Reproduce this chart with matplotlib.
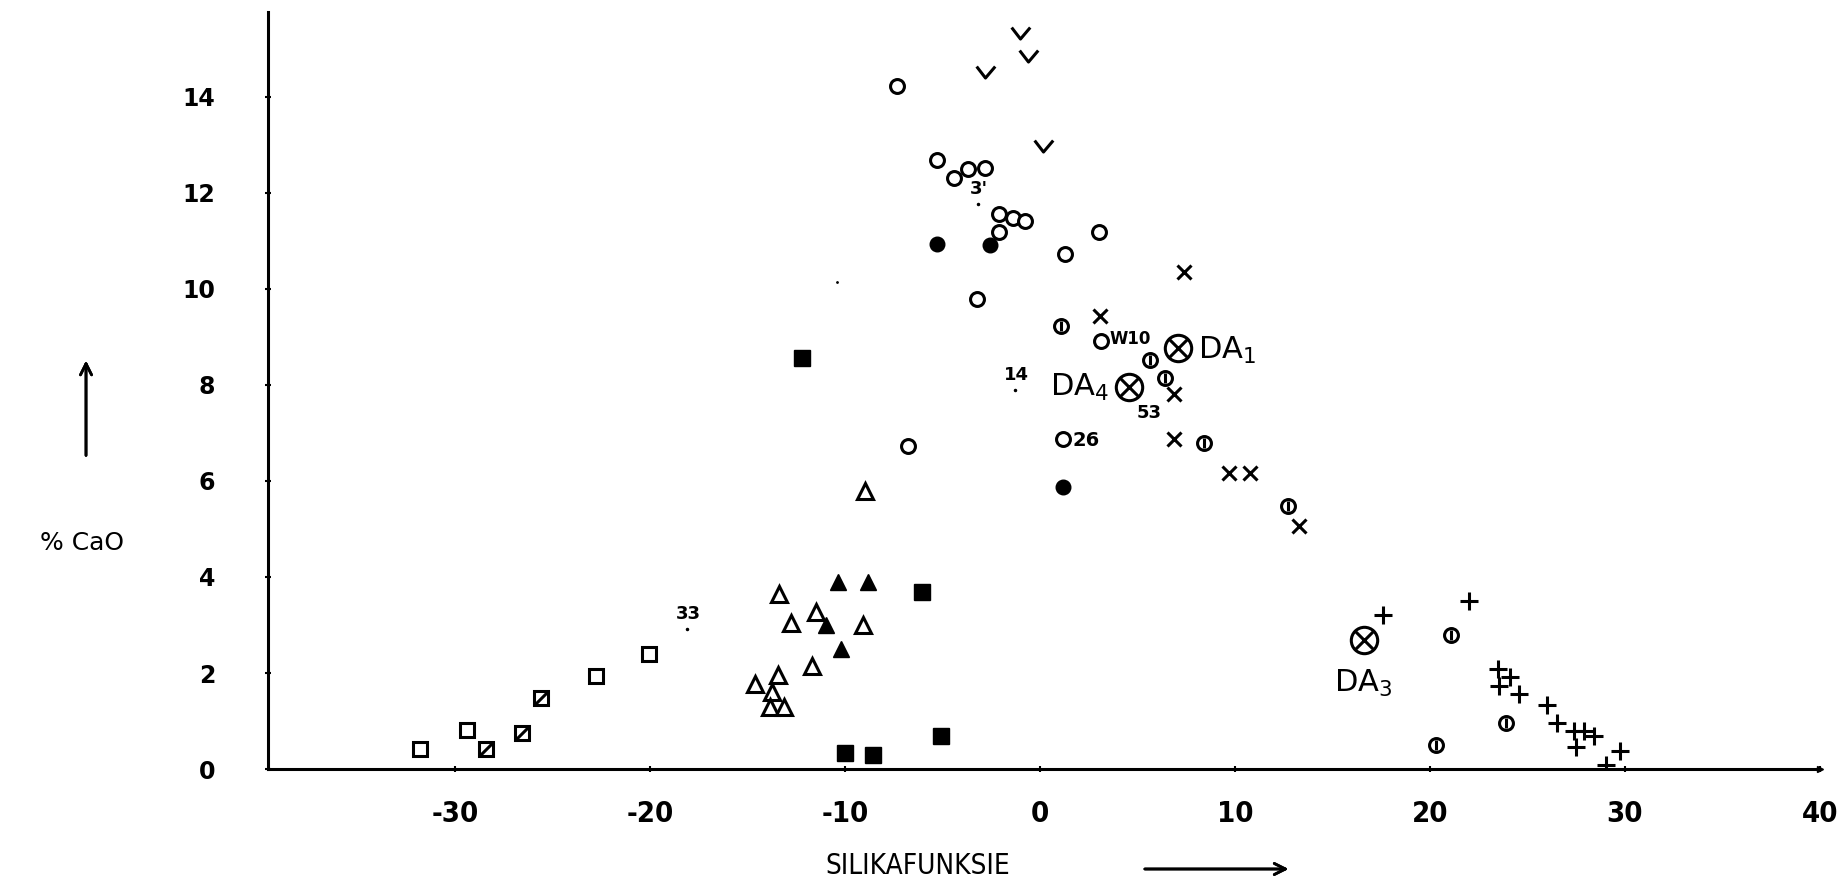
import matplotlib.pyplot as plt
import numpy as np
from matplotlib.path import Path

plt.rcParams['font.family'] = ['DejaVu Sans']
plt.rcParams['mathtext.default'] = 'regular'

# open circles
o_x = [-7.33, -5.31, -4.39, -3.69, -2.83, -2.11, -1.40, -0.75, -2.11, 3.01, 1.27, -3.25, -6.75, 1.18, 3.15]
o_y = [14.23, 12.69, 12.31, 12.50, 12.52, 11.57, 11.47, 11.41, 11.18, 11.19, 10.72, 9.80, 6.73, 6.88, 8.92]
# filled circles
dot_x = [-5.31, -2.58, 1.16]
dot_y = [10.93, 10.91, 5.88]
# circles with a bar
phi_x = [1.10, 5.66, 6.43, 8.43, 12.70, 21.10, 23.90, 20.30]
phi_y = [9.22, 8.52, 8.15, 6.80, 5.47, 2.80, 0.95, 0.51]
# v marks
v_x = [-1.04, -0.63, -2.83, 0.16]
v_y = [15.29, 14.81, 14.48, 12.93]
# crosses
x_x = [7.37, 3.05, 6.86, 6.86, 9.67, 10.75, 13.27]
x_y = [10.36, 9.44, 7.82, 6.87, 6.17, 6.17, 5.07]
# plus
p_x = [17.6, 22.0, 23.5, 24.1, 23.55, 24.55, 26.0, 26.5, 27.4, 27.9, 28.4, 27.5, 29.05, 29.75]
p_y = [3.20, 3.50, 2.09, 1.92, 1.73, 1.57, 1.33, 0.95, 0.79, 0.79, 0.69, 0.46, 0.08, 0.37]
# open triangles
tri_x = [-14.6, -13.4, -12.75, -11.5, -9.1, -11.7, -13.45, -13.75, -13.85, -13.15, -9.0]
tri_y = [1.78, 3.65, 3.04, 3.28, 2.99, 2.14, 1.96, 1.60, 1.29, 1.29, 5.80]
# filled triangles
ftri_x = [-10.35, -8.84, -11.0, -10.2]
ftri_y = [3.89, 3.89, 2.99, 2.50]
# open squares
sq_x = [-31.8, -29.4, -22.8, -20.05]
sq_y = [0.41, 0.81, 1.93, 2.40]
# squares with diagonal
hsq_x = [-28.4, -26.55, -25.6]
hsq_y = [0.41, 0.76, 1.48]
# filled squares
fsq_x = [-6.05, -10.0, -8.55, -5.1, -12.2]
fsq_y = [3.68, 0.34, 0.29, 0.68, 8.56]
# DA samples
da_names = ['DA$_1$', 'DA$_4$', 'DA$_3$']
da_x = [7.08, 4.55, 16.6]
da_y = [8.78, 7.95, 2.68]
# numbered points
num_labels = ['33', '14', '3\'']
num_x = [-18.1, -1.3, -3.2]
num_y = [2.92, 7.90, 11.78]
stray_x = [-10.4]
stray_y = [10.15]

fig = plt.figure(figsize=(18.42, 8.88), dpi=100)
ax = fig.add_axes([0.1455, 0.134, 0.988 - 0.1455, 0.8525])

lw = 2.2
k = 'black'
ax.plot(o_x, o_y, 'o', ms=10, mfc='white', mec=k, mew=lw, ls='none')
ax.plot(dot_x, dot_y, 'o', ms=10.5, color=k, ls='none')
ax.plot(phi_x, phi_y, 'o', ms=10, mfc='white', mec=k, mew=lw, ls='none')
ax.plot(phi_x, phi_y, '|', ms=7, mec=k, mew=lw, ls='none')
vmark = Path([(-0.5, 0.45), (0, -0.2), (0.55, 0.45)], [Path.MOVETO, Path.LINETO, Path.LINETO])
ax.plot(v_x, v_y, marker=vmark, ms=14, mfc='none', mec=k, mew=lw, ls='none')
ax.plot(x_x, x_y, 'x', ms=10, mec=k, mew=lw, ls='none')
ax.plot(p_x, p_y, '+', ms=13, mec=k, mew=lw, ls='none')
ax.plot(tri_x, tri_y, '^', ms=11, mfc='white', mec=k, mew=lw, ls='none')
ax.plot(ftri_x, ftri_y, '^', ms=12, color=k, ls='none')
ax.plot(sq_x, sq_y, 's', ms=10, mfc='white', mec=k, mew=lw, ls='none')
ax.plot(hsq_x, hsq_y, 's', ms=10, mfc='white', mec=k, mew=lw, ls='none')
diag = Path([(-0.5, -0.5), (0.5, 0.5)], [Path.MOVETO, Path.LINETO])
ax.plot(hsq_x, hsq_y, marker=diag, ms=10, mec=k, mew=lw, ls='none')
ax.plot(fsq_x, fsq_y, 's', ms=11, color=k, ls='none')
ax.plot(da_x, da_y, 'o', ms=19, mfc='white', mec=k, mew=lw, ls='none')
ax.plot(da_x, da_y, 'x', ms=13, mec=k, mew=lw, ls='none')
ax.plot(num_x, num_y, '.', ms=3, color=k, ls='none')
ax.plot(stray_x, stray_y, '.', ms=2, color=k, ls='none')

# labels beside points
ax.annotate(da_names[0], (da_x[0], da_y[0]), xytext=(14, -2), textcoords='offset points',
            fontsize=22, va='center', ha='left')
ax.annotate(da_names[1], (da_x[1], da_y[1]), xytext=(-14, 0), textcoords='offset points',
            fontsize=22, va='center', ha='right')
ax.annotate(da_names[2], (da_x[2], da_y[2]), xytext=(0, -20), textcoords='offset points',
            fontsize=22, va='top', ha='center')
ax.annotate('53', (da_x[1], da_y[1]), xytext=(6, -12), textcoords='offset points',
            fontsize=13, va='top', ha='left', weight='bold')
ax.annotate('W10', (o_x[14], o_y[14]), xytext=(6, 1), textcoords='offset points',
            fontsize=12, va='center', ha='left', weight='bold')
ax.annotate('26', (o_x[13], o_y[13]), xytext=(7, -1), textcoords='offset points',
            fontsize=14, va='center', ha='left', weight='bold')
for lab, xx, yy in zip(num_labels, num_x, num_y):
    ax.annotate(lab, (xx, yy), xytext=(1, 4), textcoords='offset points',
                fontsize=13, va='bottom', ha='center', weight='bold')

ax.set_xlim(-39.6, 40)
ax.set_ylim(0, 15.77)
ax.set_xticks(np.arange(-30, 41, 10))
ax.set_yticks(np.arange(0, 15, 2))
ax.set_xticklabels(['-30', '-20', '-10', '0', '10', '20', '30', '40'],
                   fontsize=21, stretch='condensed', weight='bold')
ax.set_yticklabels([str(v) for v in range(0, 15, 2)], fontsize=17, weight='bold')
ax.tick_params(axis='y', direction='inout', length=4, width=1.5, pad=36)
ax.tick_params(axis='x', direction='inout', length=4, width=1.5, pad=20)
for s in ['top', 'right']:
    ax.spines[s].set_visible(False)
for s in ['left', 'bottom']:
    ax.spines[s].set_linewidth(2.2)
ax.plot(1, 0, '>', color=k, ms=5, transform=ax.get_yaxis_transform(), clip_on=False)

fig.text(0.0445, 0.389, '% CaO', fontsize=18, ha='center', va='center')
fig.text(0.498, 0.025, 'SILIKAFUNKSIE', fontsize=20, ha='center', va='center',
         stretch='condensed')
fig.add_artist(plt.annotate('', xy=(0.0467, 0.597), xytext=(0.0467, 0.484),
                            xycoords='figure fraction',
                            arrowprops=dict(arrowstyle='->', lw=2, color=k, mutation_scale=20)))
fig.add_artist(plt.annotate('', xy=(0.701, 0.0214), xytext=(0.620, 0.0214),
                            xycoords='figure fraction',
                            arrowprops=dict(arrowstyle='->', lw=2, color=k, mutation_scale=20)))

fig.savefig('out.png', dpi=100)
